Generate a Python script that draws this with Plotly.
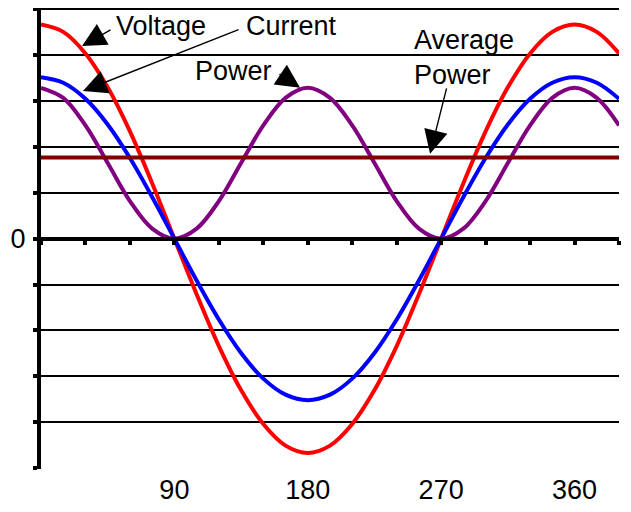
import plotly.graph_objects as go

# phase angle in degrees
angle = [0, 15, 30, 45, 60, 75, 90, 105, 120, 135, 150, 165, 180, 195, 210,
         225, 240, 255, 270, 285, 300, 315, 330, 345, 360, 375, 390]

voltage = [4.67, 4.51, 4.04, 3.30, 2.34, 1.21, 0, -1.21, -2.34, -3.30, -4.04,
           -4.51, -4.67, -4.51, -4.04, -3.30, -2.34, -1.21, 0, 1.21, 2.34,
           3.30, 4.04, 4.51, 4.67, 4.51, 4.04]

current = [3.52, 3.40, 3.05, 2.49, 1.76, 0.91, 0, -0.91, -1.76, -2.49, -3.05,
           -3.40, -3.52, -3.40, -3.05, -2.49, -1.76, -0.91, 0, 0.91, 1.76,
           2.49, 3.05, 3.40, 3.52, 3.40, 3.05]

power = [3.29, 3.07, 2.47, 1.65, 0.82, 0.22, 0, 0.22, 0.82, 1.65, 2.47, 3.07,
         3.29, 3.07, 2.47, 1.65, 0.82, 0.22, 0, 0.22, 0.82, 1.65, 2.47, 3.07,
         3.29, 3.07, 2.47]

avg_angle = [0, 390]
avg_power = [1.77, 1.77]

x_labels = [90, 180, 270, 360]
zero_ticks = list(range(0, 391, 30))
y_ticks = list(range(-5, 6))
y_text = ["0" if v == 0 else "" for v in y_ticks]

FONT = "Arial, Liberation Sans, sans-serif"

fig = go.Figure()
fig.add_trace(go.Scatter(x=angle, y=voltage, mode="lines", line_shape="spline",
                         line=dict(color="#ff0000", width=4)))
fig.add_trace(go.Scatter(x=angle, y=current, mode="lines", line_shape="spline",
                         line=dict(color="#0000ff", width=4)))
fig.add_trace(go.Scatter(x=angle, y=power, mode="lines", line_shape="spline",
                         line=dict(color="#800080", width=4)))
# average power sits on the second x axis (the one drawn along y = 0)
fig.add_trace(go.Scatter(x=avg_angle, y=avg_power, mode="lines", xaxis="x2",
                         line=dict(color="#800000", width=4)))

# text labels
for txt, x, y, anchor in [("Voltage", 81, 4.63, "center"),
                          ("Current", 169, 4.63, "center"),
                          ("Power", 130, 3.65, "center"),
                          ("Average<br>Power", 250, 3.96, "left")]:
    fig.add_annotation(x=x, y=y, text=txt, showarrow=False, xanchor=anchor,
                       align="left", font=dict(family=FONT, size=27, color="black"))

# arrows: (tip x, tip y, tail x, tail y)
for tx, ty, sx, sy in [(27.7, 4.2, 47.9, 4.57),
                       (28.3, 3.22, 134.3, 4.57),
                       (174.8, 3.29, 159.9, 3.61),
                       (262.5, 1.85, 273.9, 3.31)]:
    fig.add_annotation(x=tx, y=ty, ax=sx, ay=sy, axref="x", ayref="y", text="",
                       showarrow=True, arrowhead=2, arrowsize=3.4, arrowwidth=1.4,
                       arrowcolor="black")

# page body has an 8px margin, so the figure is a bit smaller than the window
fig.update_layout(
    width=623, height=504,
    margin=dict(l=33, r=12, t=0, b=43),
    paper_bgcolor="white", plot_bgcolor="white",
    showlegend=False,
    font=dict(family=FONT, size=27, color="black"),
    xaxis=dict(range=[0, 390], tickvals=x_labels, showgrid=False, zeroline=False,
               showline=False, ticks="", ticklabelstandoff=2, automargin=False),
    xaxis2=dict(range=[0, 390], overlaying="x", anchor="free", position=0.5,
                side="bottom", tickvals=zero_ticks, showticklabels=False,
                ticks="outside", ticklen=4, tickwidth=4, tickcolor="black",
                showline=True, linewidth=4, linecolor="black",
                showgrid=False, zeroline=False, automargin=False),
    yaxis=dict(range=[-5.02, 5.03], tickvals=y_ticks, ticktext=y_text,
               showgrid=True, gridcolor="black", gridwidth=1.5,
               zeroline=False, showline=True, linewidth=4, linecolor="black",
               ticks="outside", ticklen=4, tickwidth=4, tickcolor="black",
               ticklabelstandoff=2, automargin=False),
)

fig.write_html("out.html")
